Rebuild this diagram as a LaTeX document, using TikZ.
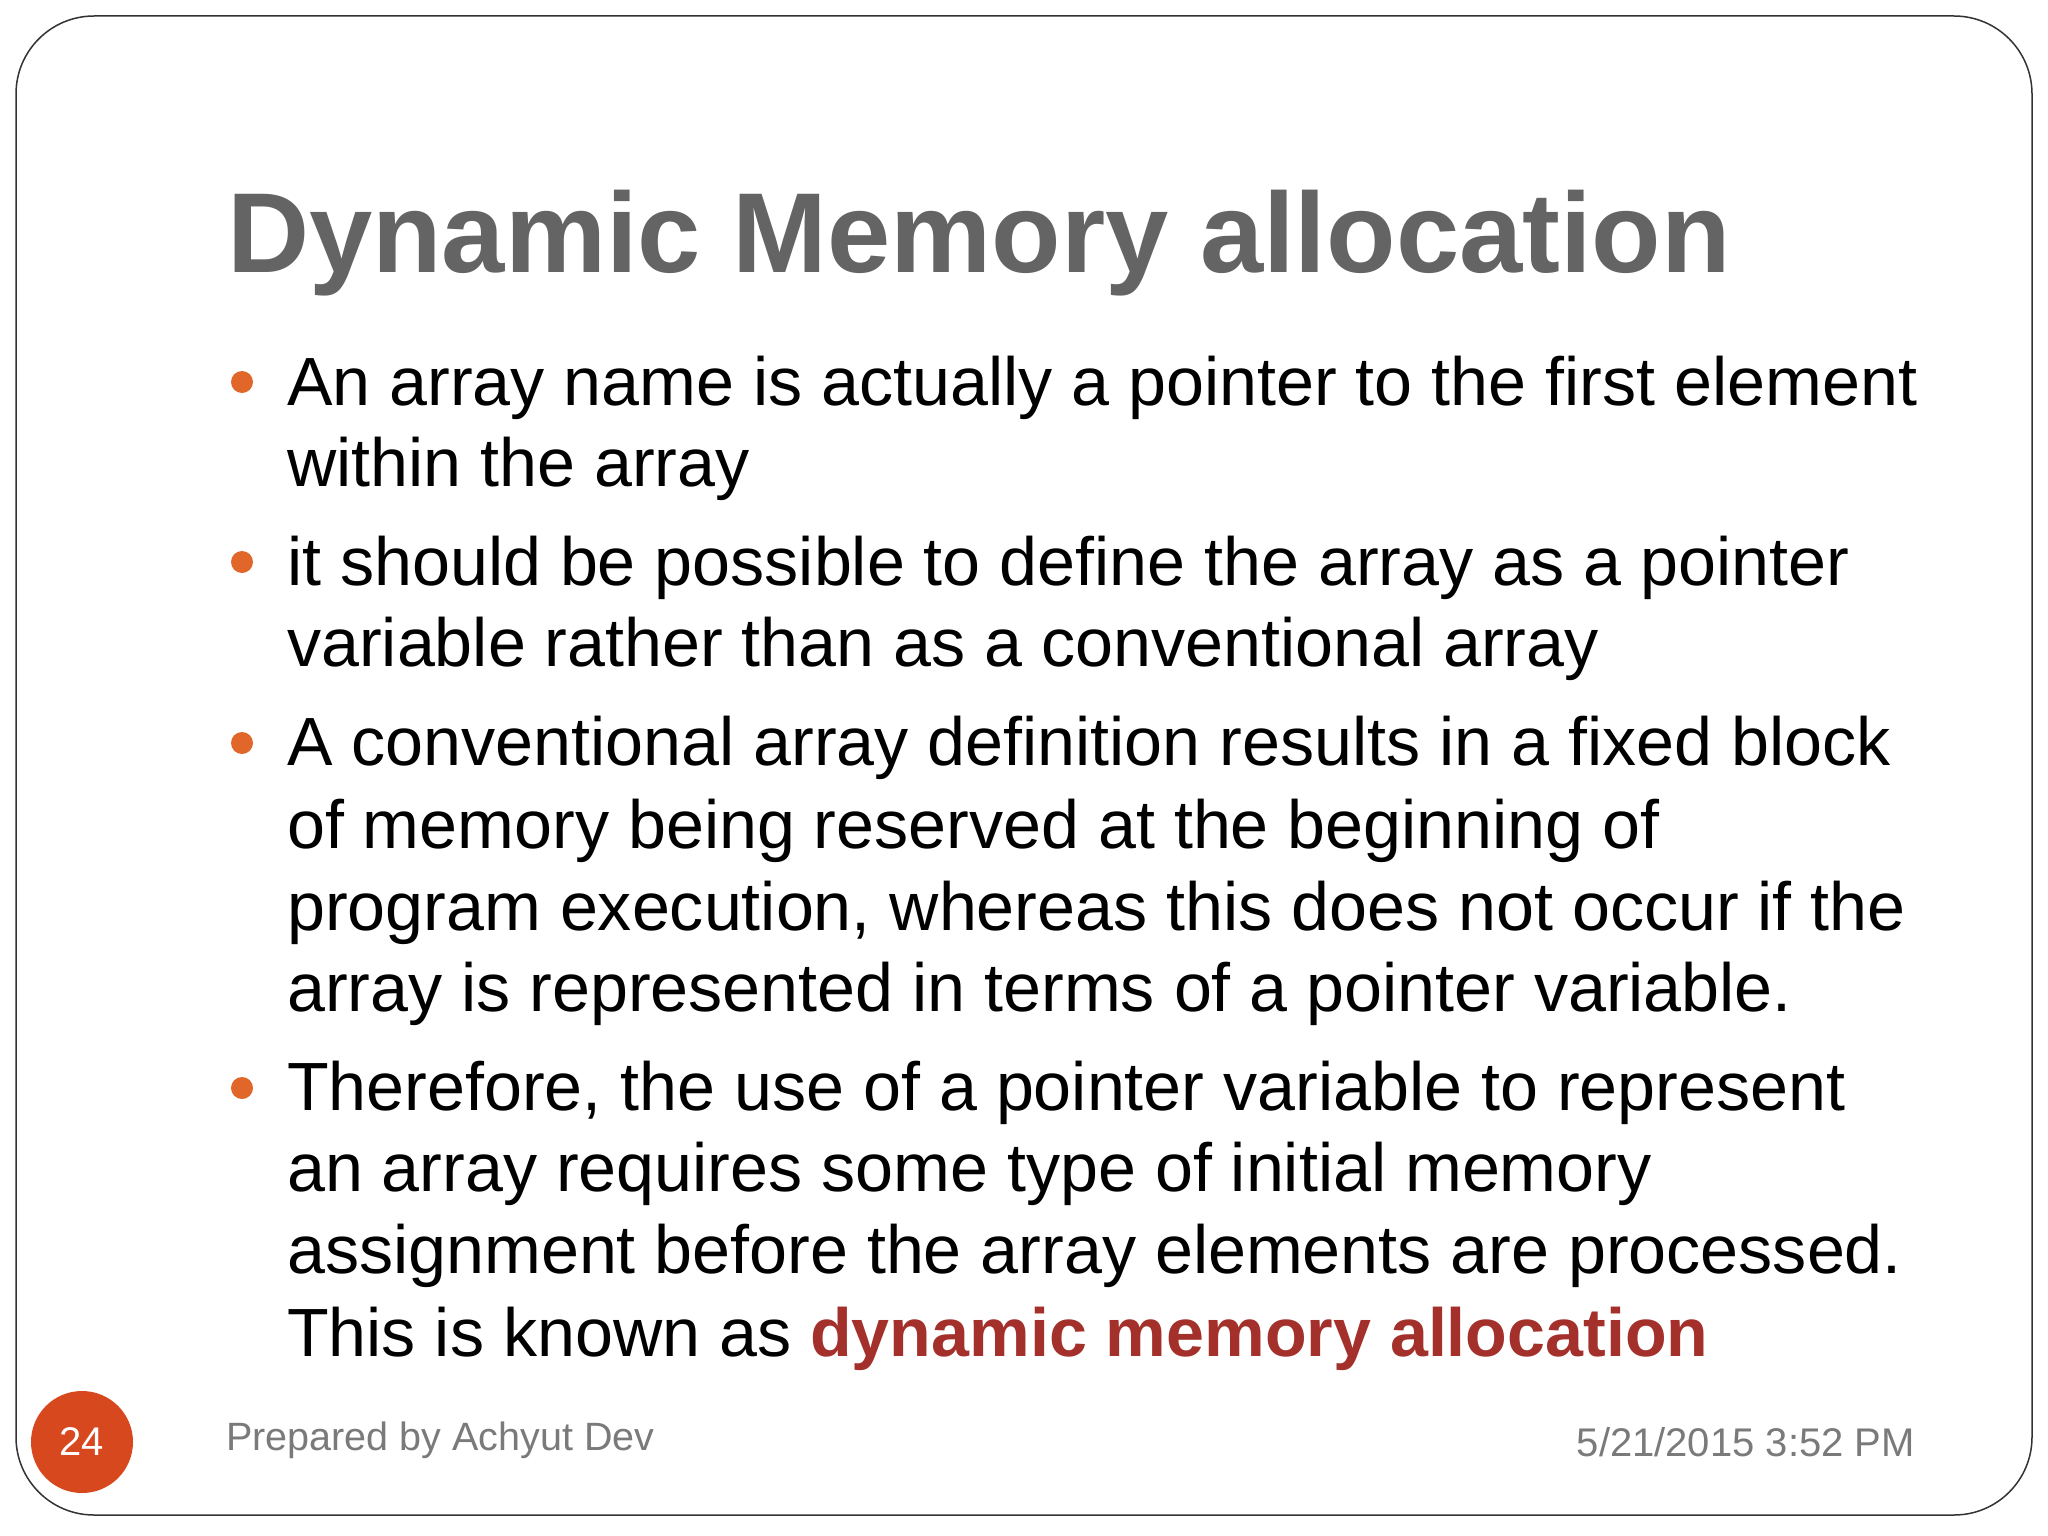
\documentclass[tikz,border=0pt]{standalone}
\usepackage{fontspec}
\setmainfont{Liberation Sans}
\definecolor{titlegray}{HTML}{646464}
\definecolor{bulorange}{HTML}{E0662A}
\definecolor{numred}{HTML}{D8481E}
\definecolor{hired}{HTML}{A3302A}
\definecolor{footgray}{HTML}{7A7A7A}
\tikzset{body/.style={anchor=base west,inner sep=0pt,font=\fontsize{68.2}{81}\selectfont},
bul/.style={circle,fill=bulorange,minimum size=22pt,inner sep=0pt}}
\begin{document}
\begin{tikzpicture}[x=1pt,y=-1pt]
\useasboundingbox (0,0) rectangle (2048,1536);
\fill[white] (0,0) rectangle (2048,1536);
\draw[line width=1.5pt,rounded corners=78pt,black!80] (16,16) rectangle (2032,1515);
\node[anchor=base west,inner sep=0pt,font=\fontsize{113.7}{130}\selectfont\bfseries,text=titlegray] (title) at (227,272) {Dynamic Memory allocation};
\node[bul] (b1) at (242,382) {};
\node[bul] (b2) at (242,562) {};
\node[bul] (b3) at (242,743) {};
\node[bul] (b4) at (242,1088) {};
\node[body] (l1) at (287,405) {An array name is actually a pointer to the first element};
\node[body] (l2) at (287,486) {within the array};
\node[body] (l3) at (287,585) {it should be possible to define the array as a pointer};
\node[body] (l4) at (287,666) {variable rather than as a conventional array};
\node[body] (l5) at (287,765) {A conventional array definition results in a fixed block};
\node[body] (l6) at (287,848) {of memory being reserved at the beginning of};
\node[body] (l7) at (287,930) {program execution, whereas this does not occur if the};
\node[body] (l8) at (287,1011) {array is represented in terms of a pointer variable.};
\node[body] (l9) at (287,1110) {Therefore, the use of a pointer variable to represent};
\node[body] (l10) at (287,1191) {an array requires some type of initial memory};
\node[body] (l11) at (287,1273) {assignment before the array elements are processed.};
\node[body] (l12) at (287,1356) {This is known as \textcolor{hired}{\bfseries dynamic memory allocation}};
\node[circle,fill=numred,minimum size=102pt,inner sep=0pt,text=white,font=\fontsize{40}{44}\selectfont] (num) at (82,1442) {24};
\node[anchor=base west,inner sep=0pt,text=footgray,font=\fontsize{39.5}{46}\selectfont] (prep) at (226,1450) {Prepared by Achyut Dev};
\node[anchor=base east,inner sep=0pt,text=footgray,font=\fontsize{40}{46}\selectfont] (date) at (1915,1456) {5/21/2015 3:52 PM};
\end{tikzpicture}
\end{document}
